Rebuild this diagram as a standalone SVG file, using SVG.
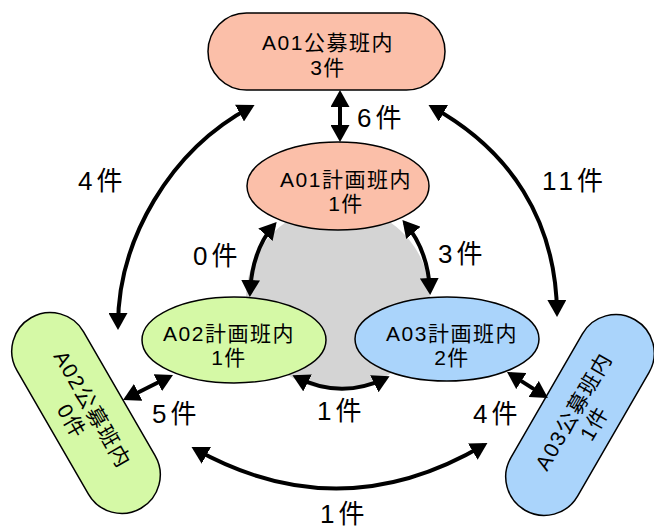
<svg xmlns="http://www.w3.org/2000/svg" width="654" height="530" viewBox="0 0 654 530">
<style>
.t{font-family:"Liberation Sans","Noto Sans CJK JP",sans-serif;font-size:21px;letter-spacing:1.5px;fill:#000;text-anchor:middle}
.lb{font-family:"Liberation Sans","Noto Sans CJK JP",sans-serif;font-size:26px;letter-spacing:4px;fill:#000}
.n{stroke:#000;stroke-width:1.5}
.red{fill:#fbbfa9}
.grn{fill:#d5f9a6}
.blu{fill:#aad4fb}
.c{fill:none;stroke:#000;stroke-width:4;marker-start:url(#ah);marker-end:url(#ah)}
</style>
<defs>
<marker id="ah" markerUnits="userSpaceOnUse" markerWidth="17" markerHeight="19" viewBox="0 0 17 19" refX="13" refY="9.5" orient="auto-start-reverse">
<path d="M0,0 L17,9.5 L0,19 z" fill="#000"/>
</marker>
</defs>
<rect width="654" height="530" fill="#fff"/>
<g id="center-area"><circle cx="338" cy="298" r="92" fill="#d4d4d4"/></g>
<g id="a01-koubo">
<rect class="n red" x="208" y="13" width="237" height="77" rx="38.5"/>
<text class="t" x="328" y="50">A01公募班内</text>
<text class="t" x="328" y="75">3件</text>
</g>
<g id="a01-keikaku">
<ellipse class="n red" cx="338" cy="186" rx="91" ry="44"/>
<text class="t" x="346" y="187">A01計画班内</text>
<text class="t" x="346" y="211">1件</text>
</g>
<g id="a02-keikaku">
<ellipse class="n grn" cx="234" cy="340" rx="92" ry="43"/>
<text class="t" x="229" y="341">A02計画班内</text>
<text class="t" x="229" y="365">1件</text>
</g>
<g id="a03-keikaku">
<ellipse class="n blu" cx="447" cy="339" rx="92" ry="42"/>
<text class="t" x="452" y="341">A03計画班内</text>
<text class="t" x="452" y="365">2件</text>
</g>
<g id="a02-koubo" transform="translate(86,413) rotate(60)">
<rect class="n grn" x="-110" y="-38.5" width="220" height="77" rx="38.5"/>
<text class="t" x="0" y="0">A02公募班内</text>
<text class="t" x="0" y="24">0件</text>
</g>
<g id="a03-koubo" transform="translate(580,415) rotate(-60)">
<rect class="n blu" x="-110" y="-38.5" width="220" height="77" rx="38.5"/>
<text class="t" x="0" y="0">A03公募班内</text>
<text class="t" x="0" y="24">1件</text>
</g>
<g id="connectors">
<path class="c" d="M340,94 L340,138"/>
<path class="c" d="M118,326 C118,240 170,150 251,107"/>
<path class="c" d="M432,107 C510,150 556,220 557,313"/>
<path class="c" d="M274,225 Q252,250 250,293"/>
<path class="c" d="M405,223 Q428,250 430,291"/>
<path class="c" d="M296,377 Q341,400 386,378"/>
<path class="c" d="M126.6,398.2 L169.4,376.8"/>
<path class="c" d="M510.4,374.1 L544.6,395.9"/>
<path class="c" d="M195,449 Q340,530 484,445"/>
</g>
<g id="labels">
<text class="lb" x="357" y="127">6件</text>
<text class="lb" x="78" y="190">4件</text>
<text class="lb" x="542" y="190">11件</text>
<text class="lb" x="193" y="265">0件</text>
<text class="lb" x="438" y="263">3件</text>
<text class="lb" x="152" y="423">5件</text>
<text class="lb" x="473" y="423">4件</text>
<text class="lb" x="317" y="420">1件</text>
<text class="lb" x="320" y="523">1件</text>
</g>
</svg>
